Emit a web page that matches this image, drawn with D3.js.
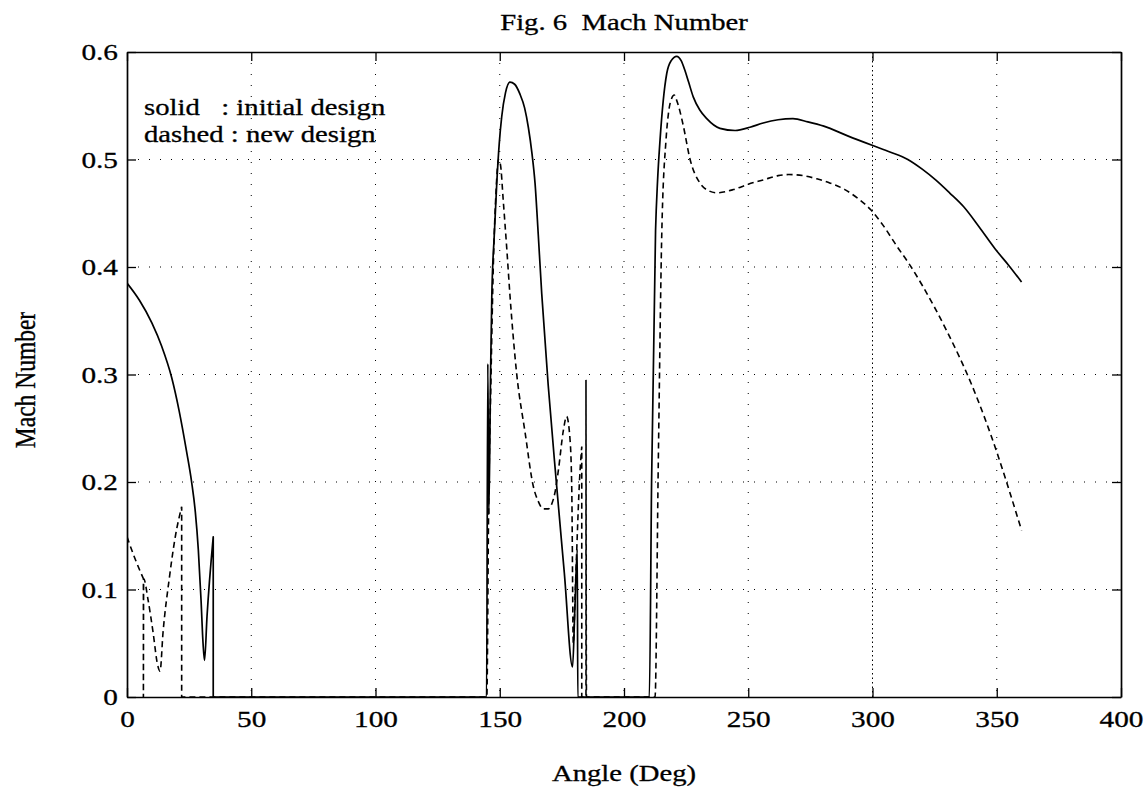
<!DOCTYPE html>
<html>
<head>
<meta charset="utf-8">
<script src="https://cdn.jsdelivr.net/npm/d3@7"></script>
<style>
  body { margin: 0; background: #fff; }
  svg { display: block; }
  text { font-family: "Liberation Serif", "Times New Roman", serif; fill: #000; }
</style>
</head>
<body>
<svg id="fig" width="1147" height="788"></svg>
<script>
// values
const xTicks = [0, 50, 100, 150, 200, 250, 300, 350, 400];
const yTicks = [0, 0.1, 0.2, 0.3, 0.4, 0.5, 0.6];
const yTickLabels = ['0', '0.1', '0.2', '0.3', '0.4', '0.5', '0.6'];

// solid : initial design
const solidAngle = [0, 5, 10, 14, 18, 21, 24, 26, 27.5, 28.7, 29.8, 30.6, 31.2, 32.2, 34.7, 34.7,
  144.7, 145.2, 145.6, 146.3, 146.8, 147.8, 148.8, 149.8, 150.8, 152.3, 154.1, 156, 158.1,
  160, 161.5, 163, 164.2, 165.5, 166.9, 169.5, 172.8, 176, 179.3, 180.2, 181.2, 181.4,
  210.2, 211.1, 212.7, 213.5, 214.5, 215.8, 217.2, 219, 221.2, 223, 224.5, 226, 227.9,
  230.5, 233.3, 238.6, 244.7, 250.7, 256, 262, 268, 274, 280.4, 290, 300.1, 307, 314.2,
  320, 325.4, 331, 336.7, 343, 349.3, 355, 360];
const solidMach = [0.385, 0.369, 0.348, 0.326, 0.297, 0.266, 0.228, 0.2, 0.172, 0.137, 0.09, 0.05, 0.034, 0.075, 0.149, 0,
  0, 0.31, 0.17, 0.30, 0.372, 0.43, 0.478, 0.515, 0.54, 0.562, 0.572, 0.57, 0.561,
  0.548, 0.53, 0.505, 0.478, 0.43, 0.375, 0.29, 0.199, 0.115, 0.028, 0.08, 0.137, 0,
  0, 0.2, 0.434, 0.48, 0.518, 0.555, 0.58, 0.592, 0.596, 0.592, 0.583, 0.572, 0.558,
  0.546, 0.538, 0.529, 0.527, 0.53, 0.534, 0.537, 0.538, 0.535, 0.531, 0.522, 0.513, 0.507, 0.5,
  0.491, 0.481, 0.469, 0.456, 0.437, 0.417, 0.401, 0.386];

// dashed : new design
const dashedAngle = [0, 3, 6.6, 6.6, 6.7, 8.5, 10.5, 12.3, 13.3, 14.5, 17, 19.5, 22, 22,
  144.8, 145.5, 146.5, 147.4, 148.5, 149.5, 150.3, 151.4, 152.8, 154.1, 156.8, 160.2, 163.5,
  165.5, 167.5, 169.5, 171, 172.2, 173.6, 175.6, 176.9, 178.3, 179, 179.6, 180.4, 182.3, 183, 183,
  184.7, 184.7, 184.9, 212.5, 213.8, 215.2, 216.9, 218, 219.2, 220.2, 221.2, 222.5, 223.9,
  226.6, 230.6, 234, 237.3, 244, 250, 256, 262, 266.3, 272, 277.6, 283, 288.9, 294, 299.4,
  304.5, 309.9, 315, 320, 330, 340, 350, 355.3, 360];
const dashedMach = [0.149, 0.13, 0.11, 0, 0.11, 0.09, 0.06, 0.03, 0.024, 0.06, 0.11, 0.15, 0.177, 0,
  0, 0.17, 0.3, 0.4, 0.47, 0.5, 0.495, 0.462, 0.418, 0.374, 0.301, 0.246, 0.196,
  0.182, 0.175, 0.175, 0.18, 0.19, 0.211, 0.248, 0.261, 0.239, 0.19, 0.05, 0.1, 0.21, 0.233, 0,
  0, 0.295, 0, 0, 0.218, 0.431, 0.518, 0.545, 0.557, 0.56, 0.555, 0.545, 0.531,
  0.5, 0.478, 0.471, 0.469, 0.472, 0.477, 0.481, 0.485, 0.486, 0.485, 0.482, 0.478, 0.472, 0.464, 0.453,
  0.438, 0.419, 0.402, 0.383, 0.34, 0.29, 0.228, 0.19, 0.155];

const SX = 1.22;   // the scan is wider than it is tall, so text gets stretched
const pLeft = 127, pRight = 1121, pTop = 52, pBottom = 697;

const svg = d3.select('#fig');

const x = d3.scaleLinear().domain([0, 400]).range([pLeft, pRight]);
const y = d3.scaleLinear().domain([0, 0.6]).range([pBottom, pTop]);

svg.append('clipPath').attr('id', 'plotclip')
  .append('rect')
  .attr('x', x(0)).attr('y', y(0.6))
  .attr('width', x(400) - x(0)).attr('height', y(0) - y(0.6));

// dotted grid
const grid = svg.append('g').attr('id', 'grid')
  .attr('stroke', '#000').attr('stroke-width', 1).attr('fill', 'none');

grid.selectAll('line.gx')
  .data(xTicks.slice(1, -1)).enter()
  .append('line').attr('class', 'gx')
  .attr('x1', d => x(d)).attr('x2', d => x(d))
  .attr('y1', pTop).attr('y2', pBottom)
  .attr('stroke-dasharray', d => d === 300 ? '1.5,3' : '1,10');

grid.selectAll('line.gy')
  .data(yTicks.slice(1, -1)).enter()
  .append('line').attr('class', 'gy')
  .attr('x1', pLeft).attr('x2', pRight)
  .attr('y1', d => y(d)).attr('y2', d => y(d))
  .attr('stroke-dasharray', '1,10');

// curves: smooth runs of increasing angle, straight vertical jumps between them
const mono = d3.line()
  .x(d => x(d[0])).y(d => y(d[1]))
  .curve(d3.curveMonotoneX);

function jumpPath(pts) {
  const runs = [[pts[0]]];
  for (let i = 1; i < pts.length; i++) {
    if (pts[i][0] === pts[i - 1][0]) runs.push([pts[i]]);
    else runs[runs.length - 1].push(pts[i]);
  }
  return runs.map((r, i) => {
    const p = r.length > 1 ? mono(r) : 'M' + x(r[0][0]) + ',' + y(r[0][1]);
    return i === 0 ? p : p.replace(/^M/, 'L');
  }).join('');
}

const curves = svg.append('g').attr('clip-path', 'url(#plotclip)');

curves.append('path')
  .attr('d', jumpPath(d3.zip(solidAngle, solidMach)))
  .attr('fill', 'none').attr('stroke', '#000').attr('stroke-width', 1.7)
  .attr('stroke-linejoin', 'round');

curves.append('path')
  .attr('d', jumpPath(d3.zip(dashedAngle, dashedMach)))
  .attr('fill', 'none').attr('stroke', '#000').attr('stroke-width', 1.6)
  .attr('stroke-dasharray', '6,4');

// axes, ticks pointing inward on all four sides
function styleAxis(g) {
  g.attr('font-size', null).attr('font-family', null);
  g.select('.domain').attr('stroke-width', 1.7);
  g.selectAll('.tick line').attr('stroke-width', 1.3);
}

svg.append('g')
  .attr('transform', 'translate(0,' + pBottom + ')')
  .call(d3.axisBottom(x).tickValues(xTicks).tickSizeInner(-9).tickSizeOuter(0))
  .call(styleAxis)
  .selectAll('text')
  .attr('y', 0).attr('dy', null)
  .style('font-size', '24px')
  .style('stroke', '#000').style('stroke-width', 0.3)
  .attr('transform', 'translate(0,30) scale(' + SX + ',1)');

svg.append('g')
  .attr('transform', 'translate(0,' + pTop + ')')
  .call(d3.axisTop(x).tickValues(xTicks).tickSizeInner(-9).tickSizeOuter(0).tickFormat(''))
  .call(styleAxis);

svg.append('g')
  .attr('transform', 'translate(' + pLeft + ',0)')
  .call(d3.axisLeft(y).tickValues(yTicks).tickSizeInner(-9).tickSizeOuter(0)
    .tickFormat((d, i) => yTickLabels[i]))
  .call(styleAxis)
  .selectAll('text')
  .attr('x', 0).attr('dy', null)
  .style('font-size', '24px')
  .style('stroke', '#000').style('stroke-width', 0.3)
  .attr('transform', 'translate(-9,7.8) scale(' + SX + ',1)');

svg.append('g')
  .attr('transform', 'translate(' + pRight + ',0)')
  .call(d3.axisRight(y).tickValues(yTicks).tickSizeInner(-9).tickSizeOuter(0).tickFormat(''))
  .call(styleAxis);

// texts
function label(txt, tx, ty, anchor, rot) {
  const t = svg.append('text')
    .style('font-size', '23.5px')
    .style('white-space', 'pre')
    .style('stroke', '#000').style('stroke-width', 0.3)
    .attr('text-anchor', anchor)
    .text(txt);
  if (rot) t.attr('transform', 'translate(' + tx + ',' + ty + ') rotate(-90) scale(1,' + SX + ')');
  else t.attr('transform', 'translate(' + tx + ',' + ty + ') scale(' + SX + ',1)');
  return t;
}

label('Fig. 6  Mach Number', (pLeft + pRight) / 2, 30, 'middle');
label('Angle (Deg)', (pLeft + pRight) / 2, 781, 'middle');
label('Mach Number', 35, 380, 'middle', true);
label('solid   : initial design', 144, 115, 'start');
label('dashed : new design', 144, 142, 'start');
</script>
</body>
</html>
